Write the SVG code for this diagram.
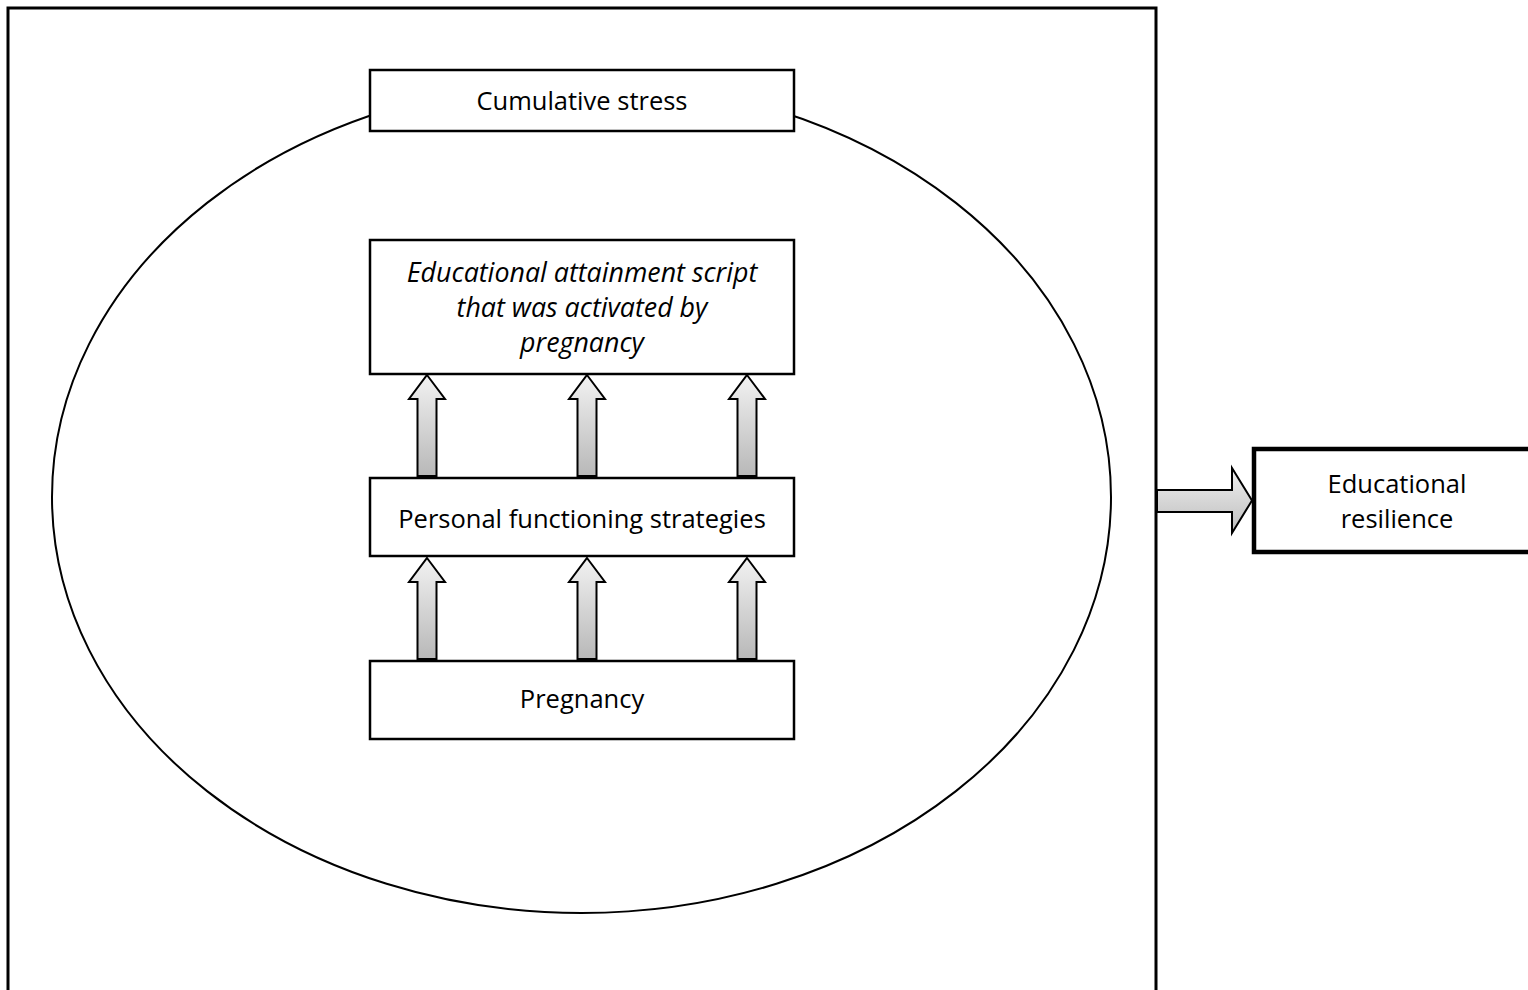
<svg xmlns="http://www.w3.org/2000/svg" width="1528" height="990" viewBox="0 0 1528 990">
<style>
.box{fill:#fff;stroke:#000;stroke-width:2.5}
.t{font-family:"Open Sans","Liberation Sans",sans-serif;font-size:25.5px;fill:#000;text-anchor:middle}
.it{font-style:italic;font-size:26.8px}
.arr{stroke:#000;stroke-width:2;stroke-linejoin:miter}
</style>
<defs>
<linearGradient id="gv" x1="0" y1="0" x2="0" y2="1">
<stop offset="0" stop-color="#f2f2f2"/>
<stop offset="1" stop-color="#b8b8b8"/>
</linearGradient>
<linearGradient id="gh" x1="0" y1="0" x2="0" y2="1">
<stop offset="0" stop-color="#f0f0f0"/>
<stop offset="1" stop-color="#bdbdbd"/>
</linearGradient>
<path id="up" d="M0,0 L18,24 L9.5,24 L9.5,101 L-9.5,101 L-9.5,24 L-18,24 Z"/>
</defs>
<g id="frame">
<path d="M8,990 L8,8 L1156,8 L1156,990" fill="none" stroke="#000" stroke-width="3"/>
</g>
<g id="stress-ellipse">
<ellipse cx="581.5" cy="497" rx="529.5" ry="416" fill="none" stroke="#000" stroke-width="2"/>
</g>
<g id="connectors">
<g fill="url(#gv)" class="arr">
<use href="#up" x="427" y="375"/>
<use href="#up" x="587" y="375"/>
<use href="#up" x="747" y="375"/>
<use href="#up" x="427" y="558"/>
<use href="#up" x="587" y="558"/>
<use href="#up" x="747" y="558"/>
</g>
<path class="arr" fill="url(#gh)" d="M1157,490 L1232,490 L1232,468 L1252,500.5 L1232,533 L1232,512 L1157,512 Z"/>
</g>
<g id="cumulative-stress">
<rect class="box" x="370" y="70" width="424" height="61"/>
<text class="t" x="582" y="110">Cumulative stress</text>
</g>
<g id="educational-attainment-script">
<rect class="box" x="370" y="240" width="424" height="134"/>
<text class="t it" x="582" y="282">Educational attainment script</text>
<text class="t it" x="582" y="317">that was activated by</text>
<text class="t it" x="582" y="352">pregnancy</text>
</g>
<g id="personal-functioning-strategies">
<rect class="box" x="370" y="478" width="424" height="78"/>
<text class="t" x="582" y="528">Personal functioning strategies</text>
</g>
<g id="pregnancy">
<rect class="box" x="370" y="661" width="424" height="78"/>
<text class="t" x="582" y="708">Pregnancy</text>
</g>
<g id="educational-resilience">
<rect x="1254" y="449" width="280" height="103" fill="#fff" stroke="#000" stroke-width="4.5"/>
<text class="t" x="1397" y="493">Educational</text>
<text class="t" x="1397" y="528">resilience</text>
</g>
</svg>
